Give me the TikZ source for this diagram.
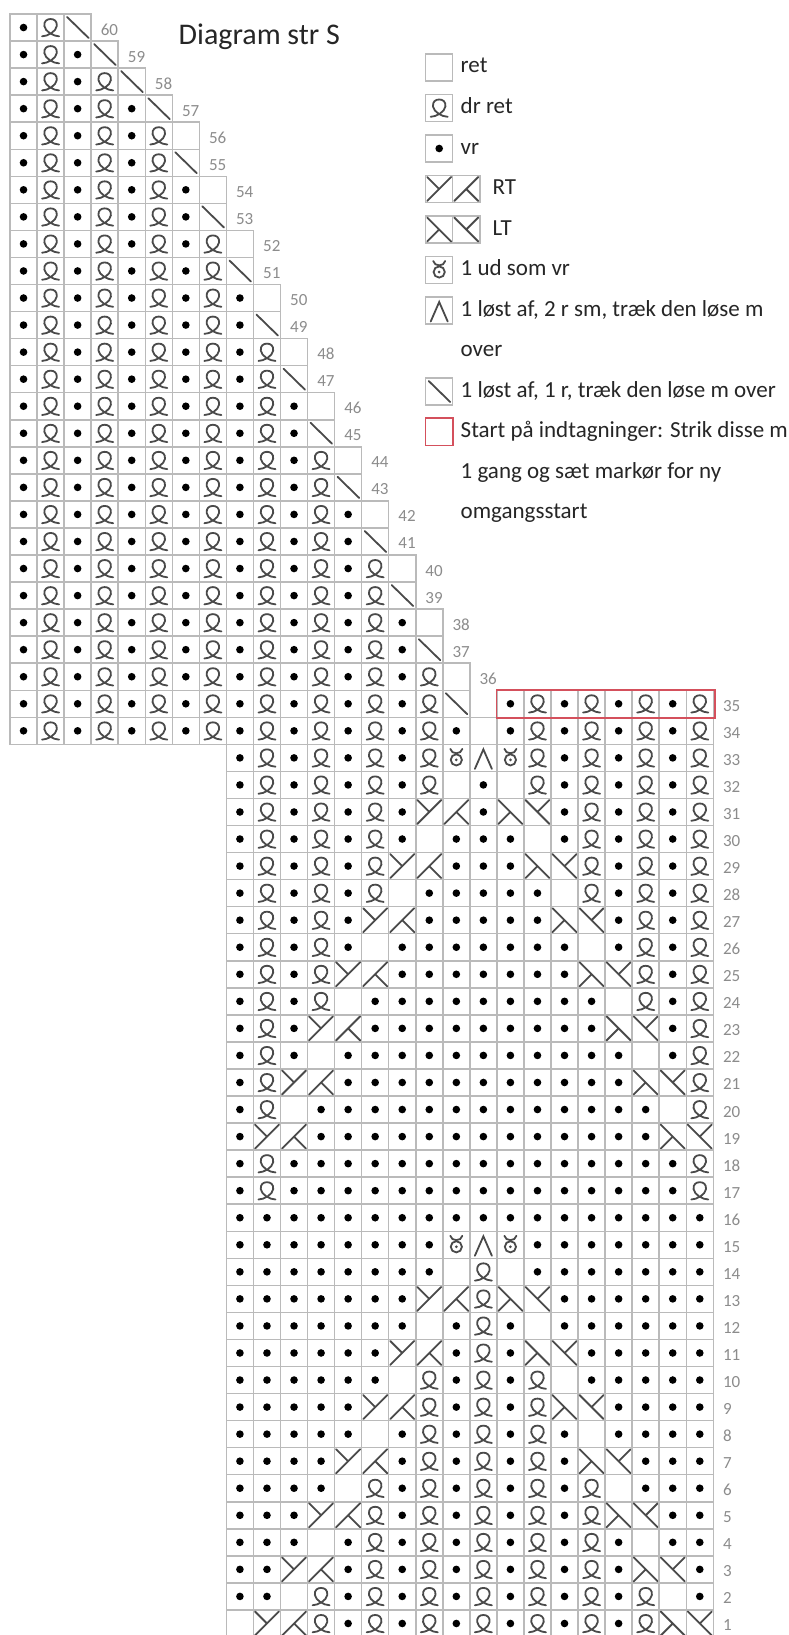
\documentclass[tikz,border=0pt]{standalone}
\usepackage{fontspec}
\setmainfont{Carlito}
\definecolor{gridc}{HTML}{BABABA}
\definecolor{symc}{HTML}{4A4A4A}
\definecolor{numc}{HTML}{8C8C8C}
\definecolor{redc}{HTML}{D4505C}
\definecolor{txtc}{HTML}{262626}
\tikzset{
  cellbox/.style={draw=gridc,line width=1.5pt},
  symline/.style={draw=symc,line width=1.8pt,line cap=round},
  diagline/.style={draw=symc,line width=1.8pt,line cap=round},
  rownum/.style={font=\fontsize{17}{20}\selectfont,text=numc,anchor=base west,inner sep=0pt},
  legtext/.style={font=\fontsize{23}{27}\selectfont,text=txtc,anchor=base west,inner sep=0pt},
  titletext/.style={font=\fontsize{30}{36}\selectfont,text=txtc,anchor=base west,inner sep=0pt},
  redbox/.style={draw=redc,line width=1.6pt},
}
\def\hc{13.525}
\newcommand\kbox{\draw[cellbox] (-\hc,-\hc) rectangle (\hc,\hc);}
\newcommand\ksymb{\kbox}
\newcommand\ksymd{\kbox\fill[black] (0,0) circle (3.8);}
\newcommand\ksymq{\kbox\draw[symline] (-8.5,8.8) .. controls (-3,8.8) and (5.5,4) .. (6.2,-1.5) .. controls (6.7,-6.5) and (3.6,-8.5) .. (0,-8.5) .. controls (-3.6,-8.5) and (-6.7,-6.5) .. (-6.2,-1.5) .. controls (-5.5,4) and (3,8.8) .. (8.5,8.8);}
\newcommand\ksyms{\kbox\draw[diagline] (-10.5,-10.5) -- (11,10.5);}
\newcommand\ksymra{\kbox\draw[diagline] (-12,12) -- (12,-12) (-12,-12) -- (0,0);}
\newcommand\ksymrb{\kbox\draw[diagline] (-12,12) -- (12,-12) (0,0) -- (12,12);}
\newcommand\ksymla{\kbox\draw[diagline] (-12,-12) -- (12,12) (-12,12) -- (0,0);}
\newcommand\ksymlb{\kbox\draw[diagline] (-12,-12) -- (12,12) (0,0) -- (12,-12);}
\newcommand\ksymi{\kbox\draw[symline] (0,2) circle (5.6); \fill[symc] (0,2) circle (1.5); \draw[symline] (-6,-9) .. controls (-5,-3.2) and (5,-3.2) .. (6,-9);}
\newcommand\ksymv{\kbox\draw[symline] (-8.5,11) -- (0,-8.5) -- (8.5,11);}
\newcommand\kc[3]{\begin{scope}[shift={({10+27.05*(#1-0.5)},{14+27.05*(60.5-(#2))})}]\csname ksym#3\endcsname\end{scope}}
\newcommand\kpat[3]{\foreach \kcol in {#2,...,#3}{\ifodd\kcol\relax\kc{\kcol}{#1}{d}\else\kc{\kcol}{#1}{q}\fi}}
\newcommand\kall[4]{\foreach \kcol in {#2,...,#3}{\kc{\kcol}{#1}{#4}}}
\newcommand\lcell[3]{\begin{scope}[shift={(#1,#2)}]\csname ksym#3\endcsname\end{scope}}
\begin{document}
\begin{tikzpicture}[x=1pt,y=-1pt]
\fill[white] (0,0) rectangle (789,1635);
\useasboundingbox (0,0) rectangle (789,1635);
% ---- upper left chart rows 36-57
\foreach \rw in {36,...,57}{
  \ifodd\rw\relax \pgfmathtruncatemacro\nn{35-(\rw+1)/2}\else\pgfmathtruncatemacro\nn{35-\rw/2}\fi
  \pgfmathtruncatemacro\mm{\nn-1}
  \kpat{\rw}{1}{\mm}
  \ifodd\rw\relax\kc{\nn}{\rw}{s}\else\kc{\nn}{\rw}{b}\fi
  \node[rownum] (n\rw) at ({10+27.05*\nn+9.5},{14+27.05*(60.5-\rw)+7.5}) {\rw};
}
\kpat{58}{1}{4}\kc{5}{58}{s}
\kpat{59}{1}{3}\kc{4}{59}{s}
\kpat{60}{1}{2}\kc{3}{60}{s}
\node[rownum] (n58) at ({10+27.05*5+9.5},{14+27.05*2.5+7.5}) {58};
\node[rownum] (n59) at ({10+27.05*4+9.5},{14+27.05*1.5+7.5}) {59};
\node[rownum] (n60) at ({10+27.05*3+9.5},{14+27.05*0.5+7.5}) {60};
% ---- rows 34, 35
\kpat{35}{1}{16}\kc{17}{35}{s}\kpat{35}{19}{26}
\kpat{34}{1}{17}\kc{18}{34}{b}\kpat{34}{19}{26}
% ---- row 33
\kpat{33}{9}{16}\kc{17}{33}{i}\kc{18}{33}{v}\kc{19}{33}{i}\kpat{33}{20}{26}
% ---- upper section even rows 20-32
\foreach \rw in {20,22,...,32}{
  \pgfmathtruncatemacro\uL{(\rw+2)/2}
  \pgfmathtruncatemacro\uR{36-\uL}
  \pgfmathtruncatemacro\uLa{\uL-1}\pgfmathtruncatemacro\uLb{\uL+1}
  \pgfmathtruncatemacro\uRa{\uR-1}\pgfmathtruncatemacro\uRb{\uR+1}
  \kpat{\rw}{9}{\uLa}\kc{\uL}{\rw}{b}\kall{\rw}{\uLb}{\uRa}{d}\kc{\uR}{\rw}{b}\kpat{\rw}{\uRb}{26}
}
% ---- upper section odd rows 19-31
\foreach \rw in {19,21,...,31}{
  \pgfmathtruncatemacro\pA{(\rw+1)/2}
  \pgfmathtruncatemacro\pB{\pA-1}\pgfmathtruncatemacro\pC{\pA+1}\pgfmathtruncatemacro\pD{\pA+2}
  \pgfmathtruncatemacro\pE{34-\pA}\pgfmathtruncatemacro\pF{35-\pA}\pgfmathtruncatemacro\pG{36-\pA}\pgfmathtruncatemacro\pH{37-\pA}
  \kpat{\rw}{9}{\pB}\kc{\pA}{\rw}{ra}\kc{\pC}{\rw}{rb}\kall{\rw}{\pD}{\pE}{d}\kc{\pF}{\rw}{la}\kc{\pG}{\rw}{lb}
  \ifnum\pH<27\relax\kpat{\rw}{\pH}{26}\fi
}
% ---- rows 14-18
\foreach \rw in {17,18}{\kc{9}{\rw}{d}\kc{10}{\rw}{q}\kall{\rw}{11}{25}{d}\kc{26}{\rw}{q}}
\kall{16}{9}{26}{d}
\kall{15}{9}{16}{d}\kc{17}{15}{i}\kc{18}{15}{v}\kc{19}{15}{i}\kall{15}{20}{26}{d}
\kall{14}{9}{16}{d}\kc{17}{14}{b}\kc{18}{14}{q}\kc{19}{14}{b}\kall{14}{20}{26}{d}
% ---- lower diamond even rows 2-12
\foreach \mq in {1,...,6}{
  \pgfmathtruncatemacro\rr{2*\mq}
  \pgfmathtruncatemacro\pA{9+\mq}\pgfmathtruncatemacro\pB{10+\mq}\pgfmathtruncatemacro\pC{11+\mq}
  \pgfmathtruncatemacro\pD{25-\mq}\pgfmathtruncatemacro\pE{26-\mq}\pgfmathtruncatemacro\pF{27-\mq}
  \kall{\rr}{9}{\pA}{d}\kc{\pB}{\rr}{b}\kpat{\rr}{\pC}{\pD}\kc{\pE}{\rr}{b}\kall{\rr}{\pF}{26}{d}
}
% ---- lower diamond odd rows 1-13
\foreach \mq in {0,...,6}{
  \pgfmathtruncatemacro\rr{2*\mq+1}
  \pgfmathtruncatemacro\pA{9+\mq}\pgfmathtruncatemacro\pB{10+\mq}\pgfmathtruncatemacro\pC{11+\mq}
  \pgfmathtruncatemacro\pD{12+\mq}\pgfmathtruncatemacro\pE{24-\mq}\pgfmathtruncatemacro\pF{25-\mq}
  \pgfmathtruncatemacro\pG{26-\mq}\pgfmathtruncatemacro\pH{27-\mq}
  \ifnum\mq=0\relax\kc{9}{1}{b}\else\kall{\rr}{9}{\pA}{d}\fi
  \kc{\pB}{\rr}{ra}\kc{\pC}{\rr}{rb}\kpat{\rr}{\pD}{\pE}\kc{\pF}{\rr}{la}\kc{\pG}{\rr}{lb}
  \ifnum\mq>0\relax\kall{\rr}{\pH}{26}{d}\fi
}
% ---- right row numbers
\foreach \rw in {1,...,35}{\node[rownum] (n\rw) at (722.8,{14+27.05*(60.5-\rw)+7.5}) {\rw};}
% ---- red box
\draw[redbox] (496.6,690.2) rectangle (715,718);
% ---- title
\node[titletext] (title) at (178.5,45) {Diagram str S};
% ---- legend
\lcell{439.2}{67.5}{b}
\node[legtext] (l1) at (460.5,73) {ret};
\lcell{439.2}{108}{q}
\node[legtext] (l2) at (460.5,113.5) {dr ret};
\lcell{439.2}{148.5}{d}
\node[legtext] (l3) at (460.5,154) {vr};
\lcell{439.2}{189}{ra}\lcell{466.25}{189}{rb}
\node[legtext] (l4) at (492.5,194.5) {RT};
\lcell{439.2}{229.5}{la}\lcell{466.25}{229.5}{lb}
\node[legtext] (l5) at (492.5,235) {LT};
\lcell{439.2}{270}{i}
\node[legtext] (l6) at (460.5,275.5) {1 ud som vr};
\lcell{439.2}{310.5}{v}
\node[legtext] (l7) at (460.5,316) {1 løst af, 2 r sm, træk den løse m};
\node[legtext] (l8) at (460.5,356.5) {over};
\lcell{439.2}{391.5}{s}
\node[legtext] (l9) at (460.5,397) {1 løst af, 1 r, træk den løse m over};
\draw[redbox] (425.5,418.2) rectangle (453,445.5);
\node[legtext] (l10) at (460.5,437.5) {Start på indtagninger: Strik disse m};
\node[legtext] (l11) at (460.5,478) {1 gang og sæt markør for ny};
\node[legtext] (l12) at (460.5,518.5) {omgangsstart};
\end{tikzpicture}
\end{document}
